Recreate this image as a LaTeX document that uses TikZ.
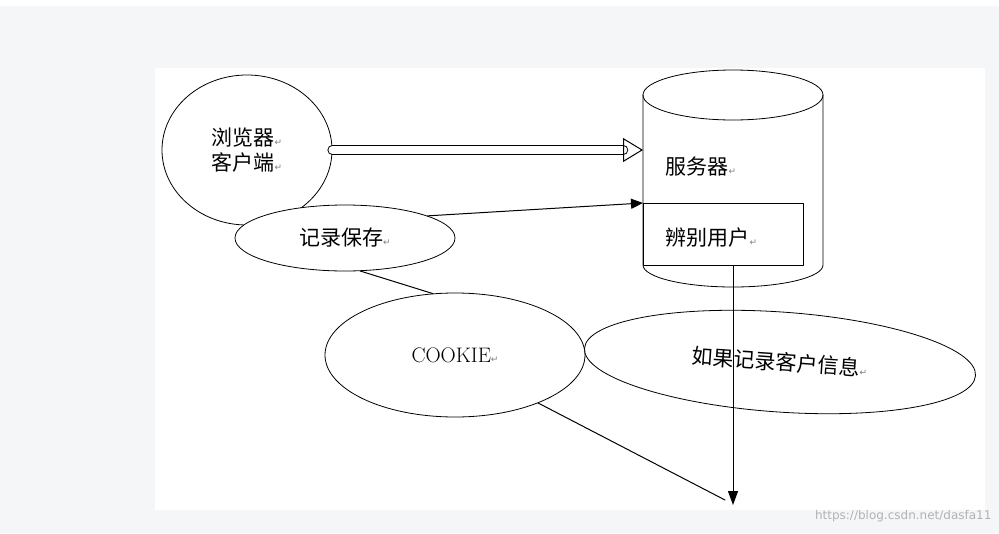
\documentclass[tikz,border=0pt]{standalone}
\usepackage{fontspec}
\newfontfamily\cjk{Noto Sans CJK SC}
\newfontfamily\symb{DejaVu Sans}
\usetikzlibrary{shapes.geometric,arrows.meta}
\definecolor{bggray}{rgb}{0.96,0.965,0.97}
\newcommand{\ret}{{\symb\fontsize{9}{9}\selectfont\color{gray}↵}}
\tikzset{
  oval/.style={draw,ellipse,line width=0.8pt,fill=white,font=\cjk\fontsize{21}{25}\selectfont},
  link/.style={line width=1pt},
}
\begin{document}
\begin{tikzpicture}[x=1pt,y=-1pt,line cap=round,line join=round]
	\useasboundingbox (0,0) rectangle (999,533);
	\fill[bggray] (0,6) rectangle (999,533);
	\fill[white] (155,68) rectangle (985,510);
	% cylinder
	\draw[line width=0.8pt] (643,95) -- (643,265) arc[start angle=180,end angle=0,x radius=90,y radius=22] -- (823,95);
	\draw[line width=0.8pt] (733,95) ellipse[x radius=90,y radius=25];
	\node[font=\cjk\fontsize{21}{25}\selectfont,anchor=west] (srv) at (662,167) {服务器\ret};
	\node[draw,line width=0.8pt,fill=white,minimum width=160,minimum height=62,anchor=north west,inner sep=0pt] (id) at (643,203) {};
	\node[font=\cjk\fontsize{21}{25}\selectfont,anchor=west] (idt) at (662,238) {辨别用户\ret};
	% ellipses
	\node[oval,minimum width=170,minimum height=150,align=center] (brw) at (247,150) {浏览器\ret\\客户端\ret};
	\node[oval,minimum width=220,minimum height=66] (rec) at (345,238) {记录保存\ret};
	\node[oval,minimum width=260,minimum height=124,font=\fontsize{21}{25}\selectfont] (ck) at (455,355) {COOKIE\ret};
	\node[oval,minimum width=392,minimum height=100,rotate=-4] (inf) at (780,362) {如果记录客户信息\ret};
	% connectors
	\coordinate (srvin) at (643,150);
	\coordinate (cend) at (725,500);
	\coordinate (low) at (733,505);
	\draw[link,double distance=8pt,-{Triangle[open,length=20pt,width=24pt]}] (brw.east) -- (srvin);
	\draw[link,-{Triangle[length=12pt,width=10pt]}] (rec.15) -- (id.north west);
	\draw[link] (rec.-65) -- (ck.110);
	\draw[link] (ck.-30) -- (cend);
	\draw[link,-{Triangle[length=14pt,width=10pt]}] (id.south-|low) -- (low);
	\node[text=gray!60,font=\symb\fontsize{12}{12}\selectfont,anchor=east] (wm) at (995,516) {https://blog.csdn.net/dasfa11};
\end{tikzpicture}
\end{document}
